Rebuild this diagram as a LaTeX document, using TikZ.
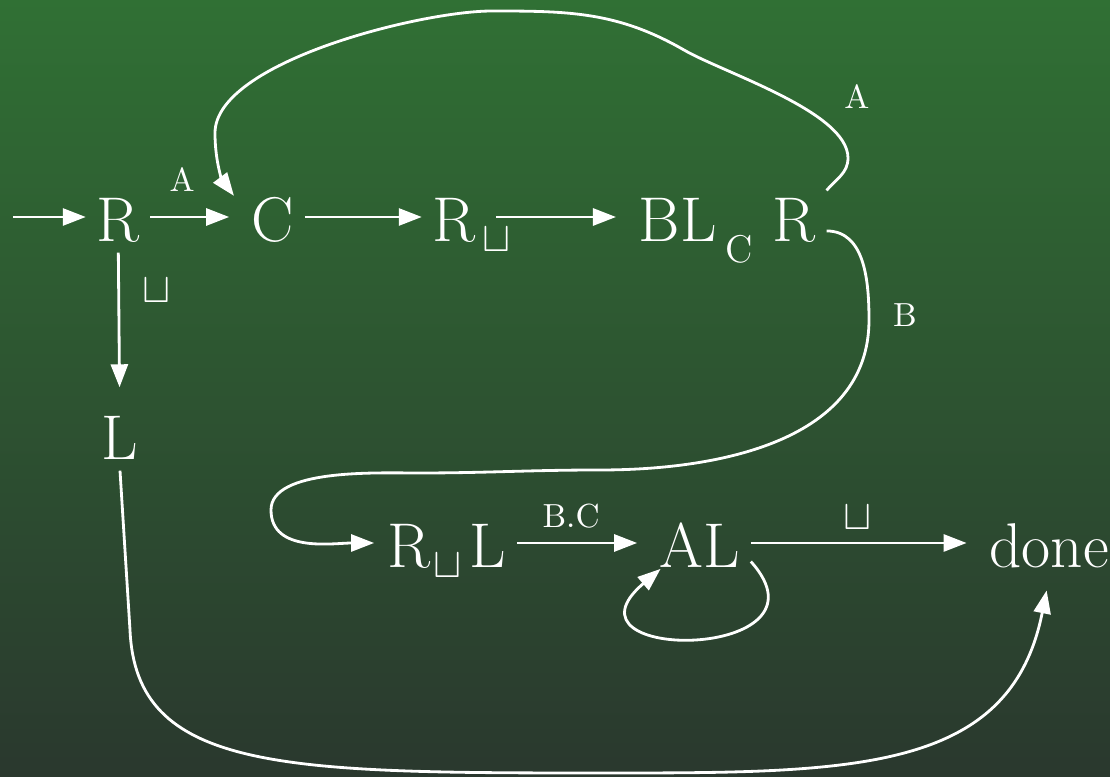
\documentclass[tikz,border=0pt]{standalone}
\usepackage{amsmath}
\usepackage{xcolor}
\usepackage{tikz}
\usetikzlibrary{arrows.meta, positioning}
\definecolor{SlideTop}{RGB}{48, 112, 52}
\definecolor{SlideBottom}{RGB}{42, 56, 46}
\DeclareMathSizes{18}{18}{13}{9}
\newcommand{\lblsize}{\fontsize{9.5}{11}\selectfont}

\begin{document}
\begin{tikzpicture}[
    state/.style={text=white, inner sep=0.1cm, text height=0.5cm, text depth=0cm, anchor=base, font=\fontsize{18}{20}\selectfont},
    lbl/.style={text=white, inner sep=0.1cm, font=\lblsize},
    blank/.style={lbl, font=\fontsize{12}{14}\selectfont},
    arrow/.style={-{Triangle[length=0.23cm, width=0.17cm]}, draw=white, line width=0.8pt, shorten >=0.12cm}
]

\shade [top color=SlideTop, bottom color=SlideBottom] (0,0) rectangle (11.1,-7.77);
\useasboundingbox (0,0) rectangle (11.1,-7.77);

\node (R1) [state] at (1.18,-2.42) {R};
\node (C) [state] at (2.73,-2.42) {C};
\node (Rb) [state] at (4.54,-2.42) {R\rlap{\kern0.07cm$_\sqcup$}};
\node (BLR) [state, anchor=base west] at (6.28,-2.42) {BL\hspace{0.09cm}\raisebox{-0.21cm}{\fontsize{11}{13}\selectfont C}\hspace{0.2cm}R};
\node (L) [state] at (1.20,-4.60) {L};
\node (RbL) [state] at (4.47,-5.68) {R\kern0.03cm$_\sqcup$\kern0.06cm L};
\node (AL) [state] at (7.00,-5.68) {AL};
\node (done) [state] at (10.49,-5.68) {done};
\coordinate (in) at (0.13,-2.17);

\draw [arrow, shorten >=0cm] (in) -- (R1);
\draw [arrow] (R1) -- node[lbl, above=0.14cm, pos=0.35] (lA1) {A} (C);
\draw [arrow, shorten >=0cm] (C) -- (Rb);
\draw [arrow, shorten <=0.1cm] (Rb) -- (BLR);
\draw [arrow] (R1) -- node[blank, right=0.12cm, pos=0.26] (lsp1) {$\sqcup$} (L);
\draw [arrow] (RbL) -- node[lbl, above=0.03cm, pos=0.41] (lBC) {B.C} (AL);
\draw [arrow] (AL) -- node[blank, above=0.02cm, pos=0.47] (lsp2) {$\sqcup$} (done);
\draw [arrow, shorten >=-0.15cm] (AL.-20) .. controls +(0.9,-1.0) and +(-1.0,-0.85) .. (AL.215);

% back to C on A
\draw [arrow] (BLR.15) to[out=50,in=-90] (8.48,-1.58) to[out=90,in=-30,looseness=0.6] (6.84,-0.50)
    to[out=150,in=0] (4.92,-0.11) to[out=180,in=90,looseness=0.6] (2.15,-1.33) to[out=-90,in=127] (C.160);
\node (lA2) [lbl] at (8.57,-0.97) {A};

% on to the second row on B
\draw [arrow, shorten >=0.03cm] (BLR.-8) to[out=0,in=90] (8.69,-3.20) to[out=-90,in=0] (6.00,-4.70) to[out=180,in=0] (4.18,-4.73)
    to[out=180,in=90,looseness=0.7] (2.71,-5.10) to[out=-90,in=180] (RbL.west);
\node (lB) [lbl] at (9.05,-3.15) {B};

\draw [arrow] (L.south) -- (1.30,-6.30) .. controls +(0.06,-1.40) and +(-3.15,0) .. (5.95,-7.73)
    .. controls +(2.55,0) and +(-0.39,-1.96) .. (done.south);

\end{tikzpicture}
\end{document}
